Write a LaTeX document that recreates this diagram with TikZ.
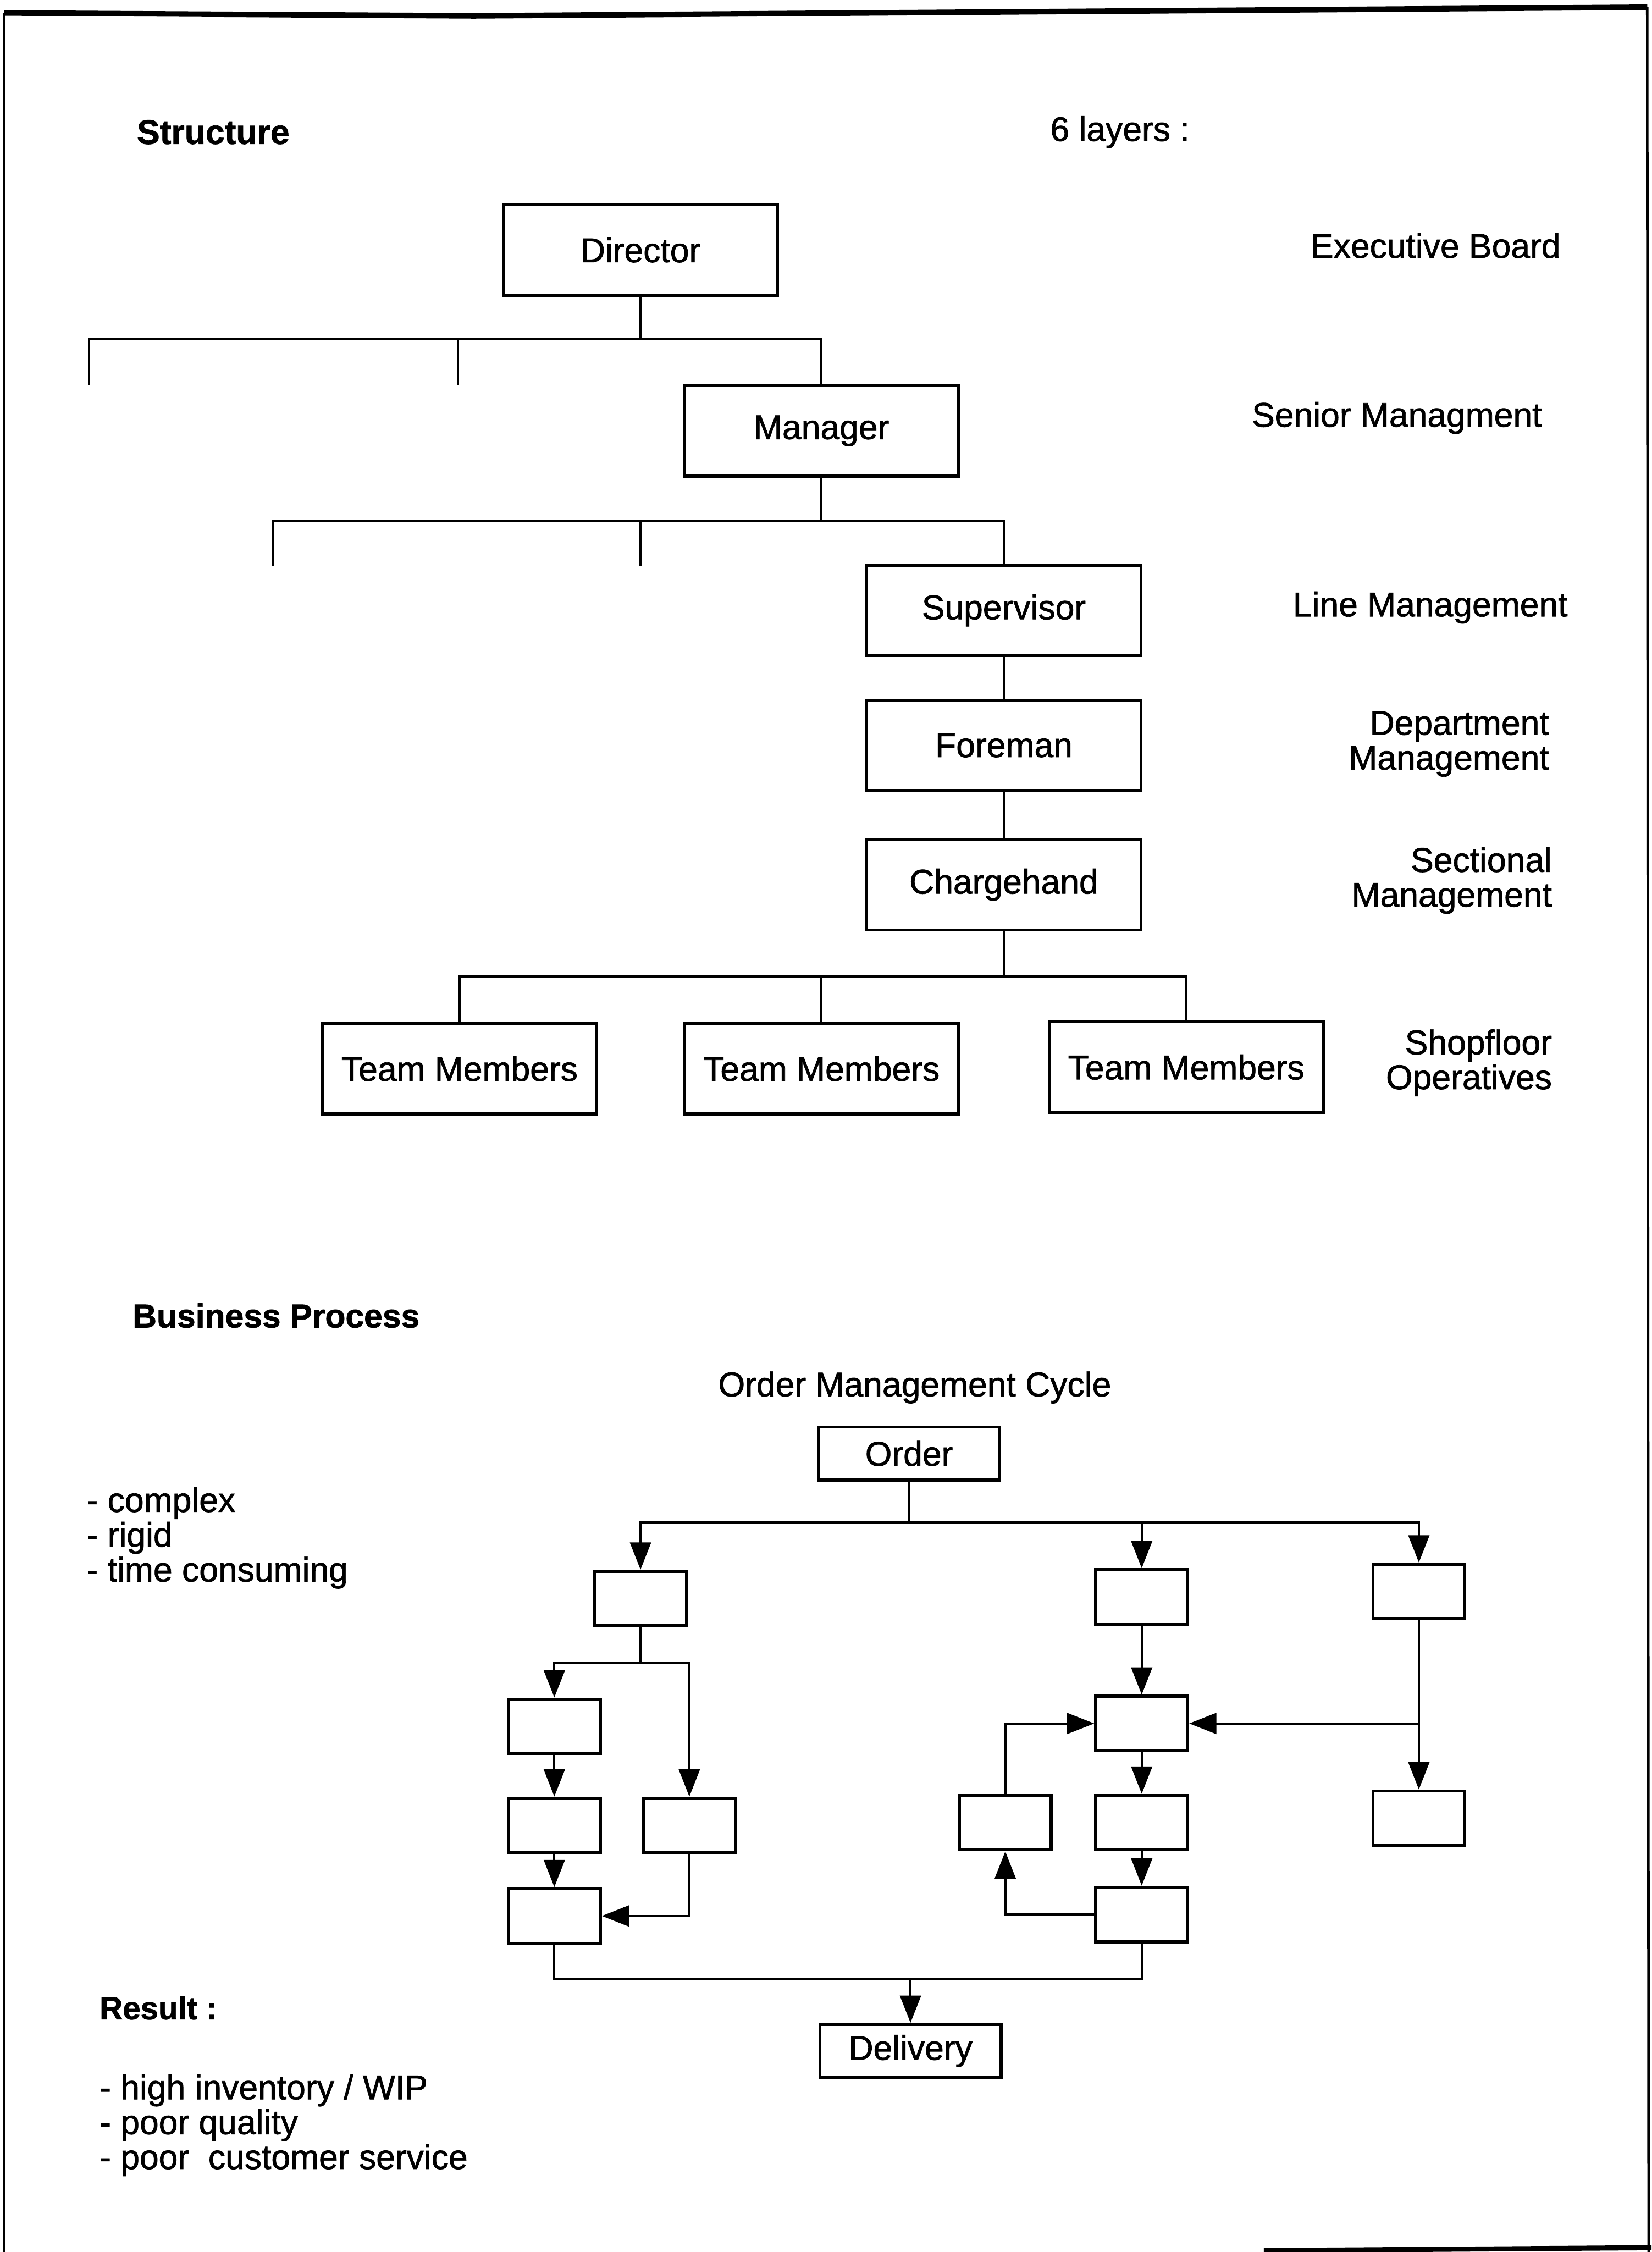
\documentclass[tikz,border=0pt]{standalone}
\usepackage{fontspec}
\setsansfont{Liberation Sans}[FakeBold=1.2]
\usetikzlibrary{calc,positioning,arrows.meta}

\begin{document}
\begin{tikzpicture}[x=0.2mm, y=-0.2mm, font=\sffamily\fontsize{13.6}{13.8}\selectfont]

% =========================
% Page frame
% =========================
\useasboundingbox (0,0) rectangle (1150,1568);
\draw[line width=2.2pt] (3,9) -- (330,11) -- (1147,5);
\draw[line width=1pt] (3,9) -- (3,1568);
\draw[line width=1pt] (1147,5) -- (1148,1568);
\draw[line width=2pt] (880,1567) -- (1150,1565);

% =========================
% Styles
% =========================
\tikzset{
    orgbox/.style={
        draw,
        line width=1.2pt,
        minimum width=38.2mm,
        minimum height=12.6mm,
        inner sep=2pt
    },
    endbox/.style={draw, line width=1.2pt, minimum width=25.2mm, minimum height=7.4mm, inner sep=1pt},
    stepbox/.style={draw, line width=1.2pt, minimum width=12.8mm, minimum height=7.6mm},
    link/.style={line width=0.9pt},
    flow/.style={line width=0.9pt, -{Triangle[length=3.8mm,width=2.9mm]}},
    heading/.style={anchor=west, inner sep=0pt, font=\sffamily\bfseries\fontsize{13.6}{13.8}\selectfont},
    layer/.style={anchor=east, align=right, inner sep=0pt},
    note/.style={anchor=north west, align=left, inner sep=0pt}
}

% =========================
% Structure: hierarchy
% =========================
\node[heading] (structure) at (95,92) {Structure};
\node[anchor=west, inner sep=0pt] (layers) at (731,92) {6 layers :};

\node[orgbox] (director)   at (446,174) {Director};
\node[orgbox] (manager)    at (572,300) {Manager};
\node[orgbox] (supervisor) at (699,425) {Supervisor};
\node[orgbox] (foreman)    at (699,519) {Foreman};
\node[orgbox] (chargehand) at (699,616) {Chargehand};

\node[orgbox] (team1) at (320,744) {Team Members};
\node[orgbox] (team2) at (572,744) {Team Members};
\node[orgbox] (team3) at (826,743) {Team Members};

% bus lines with open branches
\coordinate (bus1) at (446,236);
\coordinate (bus2) at (572,363);
\coordinate (bus3) at (699,680);

\draw[link] (director.south) -- (bus1);
\draw[link] (62,268) -- (62,236) -| (manager.north);
\draw[link] (319,236) -- (319,268);

\draw[link] (manager.south) -- (bus2);
\draw[link] (190,394) -- (190,363) -| (supervisor.north);
\draw[link] (446,363) -- (446,394);

\draw[link] (supervisor.south) -- (foreman.north);
\draw[link] (foreman.south) -- (chargehand.north);

\draw[link] (chargehand.south) -- (bus3);
\draw[link] (team1.north) |- (bus3) -| (team3.north);
\draw[link] (team2.north) -- (team2.north |- bus3);

% layer names
\node[layer] (board)   at (1087,171) {Executive Board};
\node[layer] (senior)  at (1074,291) {Senior Managment};
\node[layer] (line)    at (1092,423) {Line Management};
\node[layer] (dept)    at (1079,518) {Department\\Management};
\node[layer] (section) at (1081,613) {Sectional\\Management};
\node[layer] (shop)    at (1081,740) {Shopfloor\\Operatives};

% =========================
% Business process
% =========================
\node[heading, font=\sffamily\bfseries\fontsize{13.2}{13.8}\selectfont] (business) at (92,916) {Business Process};
\node (cycle) at (637,966) {Order Management Cycle};

\node[note] (traits) at (60,1035) {- complex\\- rigid\\- time consuming};

\node[endbox] (order)    at (633,1012) {Order};
\node[endbox] (delivery) at (634,1428) {Delivery};

% left branch
\node[stepbox] (a1) at (446,1113) {};
\node[stepbox] (a2) at (386,1202) {};
\node[stepbox] (a3) at (386,1271) {};
\node[stepbox] (a4) at (480,1271) {};
\node[stepbox] (a5) at (386,1334) {};

% middle branch
\node[stepbox] (b1) at (795,1112) {};
\node[stepbox] (b2) at (795,1200) {};
\node[stepbox] (b3) at (795,1269) {};
\node[stepbox] (b4) at (700,1269) {};
\node[stepbox] (b5) at (795,1333) {};

% right branch
\node[stepbox] (c1) at (988,1108) {};
\node[stepbox] (c2) at (988,1266) {};

% order split
\coordinate (split) at (633,1060);
\draw[link] (order.south) -- (split);
\draw[flow] (split) -| (a1.north);
\draw[flow] (split) -| (b1.north);
\draw[flow] (split) -| (c1.north);

% left branch links
\coordinate (asplit) at (446,1158);
\draw[link] (a1.south) -- (asplit);
\draw[flow] (asplit) -| (a2.north);
\draw[flow] (asplit) -| (a4.north);
\draw[flow] (a2) -- (a3);
\draw[flow] (a3) -- (a5);
\draw[flow] (a4.south) |- (a5.east);

% middle branch links
\draw[flow] (b1) -- (b2);
\draw[flow] (b2) -- (b3);
\draw[flow] (b3) -- (b5);
\draw[flow] (b5.west) -| (b4.south);
\draw[flow] (b4.north) |- (b2.west);

% right branch links
\draw[flow] (c1) -- (c2);
\draw[flow] (c1.south |- b2.east) -- (b2.east);

% merge into delivery
\coordinate (merge) at (634,1378);
\draw[link] (a5.south) |- (merge) -| (b5.south);
\draw[flow] (merge) -- (delivery.north);

% =========================
% Result
% =========================
\node[heading, font=\sffamily\bfseries\fontsize{12.7}{13}\selectfont] (result) at (69,1398) {Result :};
\node[note] (effects) at (69,1444) {- high inventory / WIP\\- poor quality\\- poor\ \ customer service};

\end{tikzpicture}
\end{document}
